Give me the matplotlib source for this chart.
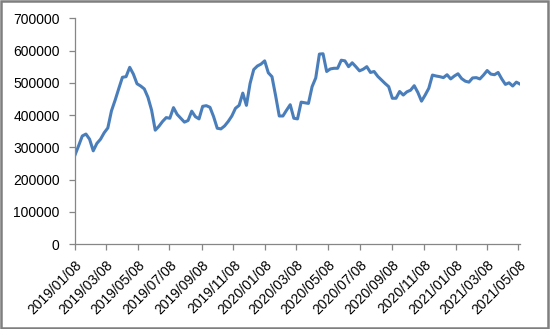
import numpy as np
import pandas as pd
import matplotlib
matplotlib.use("Agg")
import matplotlib.pyplot as plt
import matplotlib.dates as mdates
from matplotlib.patches import Rectangle

# weekly values, starting 2019/01/08
start_date = "2019-01-08"
values = [
    276000, 305000, 335000, 341000, 325000, 289000, 312000, 325000, 345000, 360000,
    413000, 446000, 482000, 517000, 519000, 548000, 527000, 497000, 490000, 481000,
    455000, 415000, 353000, 365000, 380000, 392000, 390000, 423000, 402000, 390000,
    378000, 383000, 412000, 395000, 388000, 427000, 429000, 424000, 395000, 359000,
    357000, 366000, 380000, 397000, 421000, 430000, 468000, 430000, 498000, 541000,
    552000, 558000, 568000, 531000, 519000, 460000, 397000, 397000, 415000, 432000,
    390000, 388000, 440000, 438000, 436000, 488000, 515000, 589000, 590000, 535000,
    543000, 545000, 545000, 570000, 568000, 550000, 562000, 550000, 537000, 542000,
    550000, 532000, 535000, 520000, 509000, 498000, 488000, 452000, 452000, 473000,
    462000, 472000, 477000, 491000, 470000, 443000, 462000, 483000, 524000, 521000,
    519000, 516000, 525000, 512000, 521000, 528000, 513000, 505000, 502000, 515000,
    516000, 512000, 524000, 538000, 527000, 525000, 532000, 512000, 495000, 500000,
    490000, 502000, 496000,
]
dates = pd.date_range(start_date, periods=len(values), freq="7D")
y_ticks = [0, 100000, 200000, 300000, 400000, 500000, 600000, 700000]

plt.rcParams['font.family'] = ['Liberation Sans', 'DejaVu Sans']

fig = plt.figure(figsize=(5.5, 3.29), dpi=100)
ax = fig.add_axes([75 / 550, 1 - 244 / 329, 445 / 550, (244 - 18.3) / 329])

ax.plot(dates, values, color="#4a7ebb", linewidth=2.2, solid_joinstyle="round")

ax.set_ylim(0, 700000)
ax.set_yticks(y_ticks)
ax.set_xlim(dates[0], dates[-1])
ax.xaxis.set_major_locator(mdates.MonthLocator(bymonth=[1, 3, 5, 7, 9, 11], bymonthday=8))
ax.xaxis.set_major_formatter(mdates.DateFormatter("%Y/%m/%d"))

for s in ["top", "right"]:
    ax.spines[s].set_visible(False)
for s in ["left", "bottom"]:
    ax.spines[s].set_color("#868686")
    ax.spines[s].set_linewidth(0.9)

ax.tick_params(axis="both", colors="#868686", labelcolor="black",
               length=4, width=0.9, direction="out")
ax.tick_params(axis="y", labelsize=10, pad=7)
ax.tick_params(axis="x", labelsize=10, pad=6)
plt.setp(ax.get_xticklabels(), rotation=45, ha="right", rotation_mode="anchor")

# chart area border
fig.patches.append(Rectangle((0.002, 0.003), 0.994, 0.994, transform=fig.transFigure,
                             fill=False, edgecolor="#7f7f7f", linewidth=1.8))

fig.savefig("out.png", dpi=100)
